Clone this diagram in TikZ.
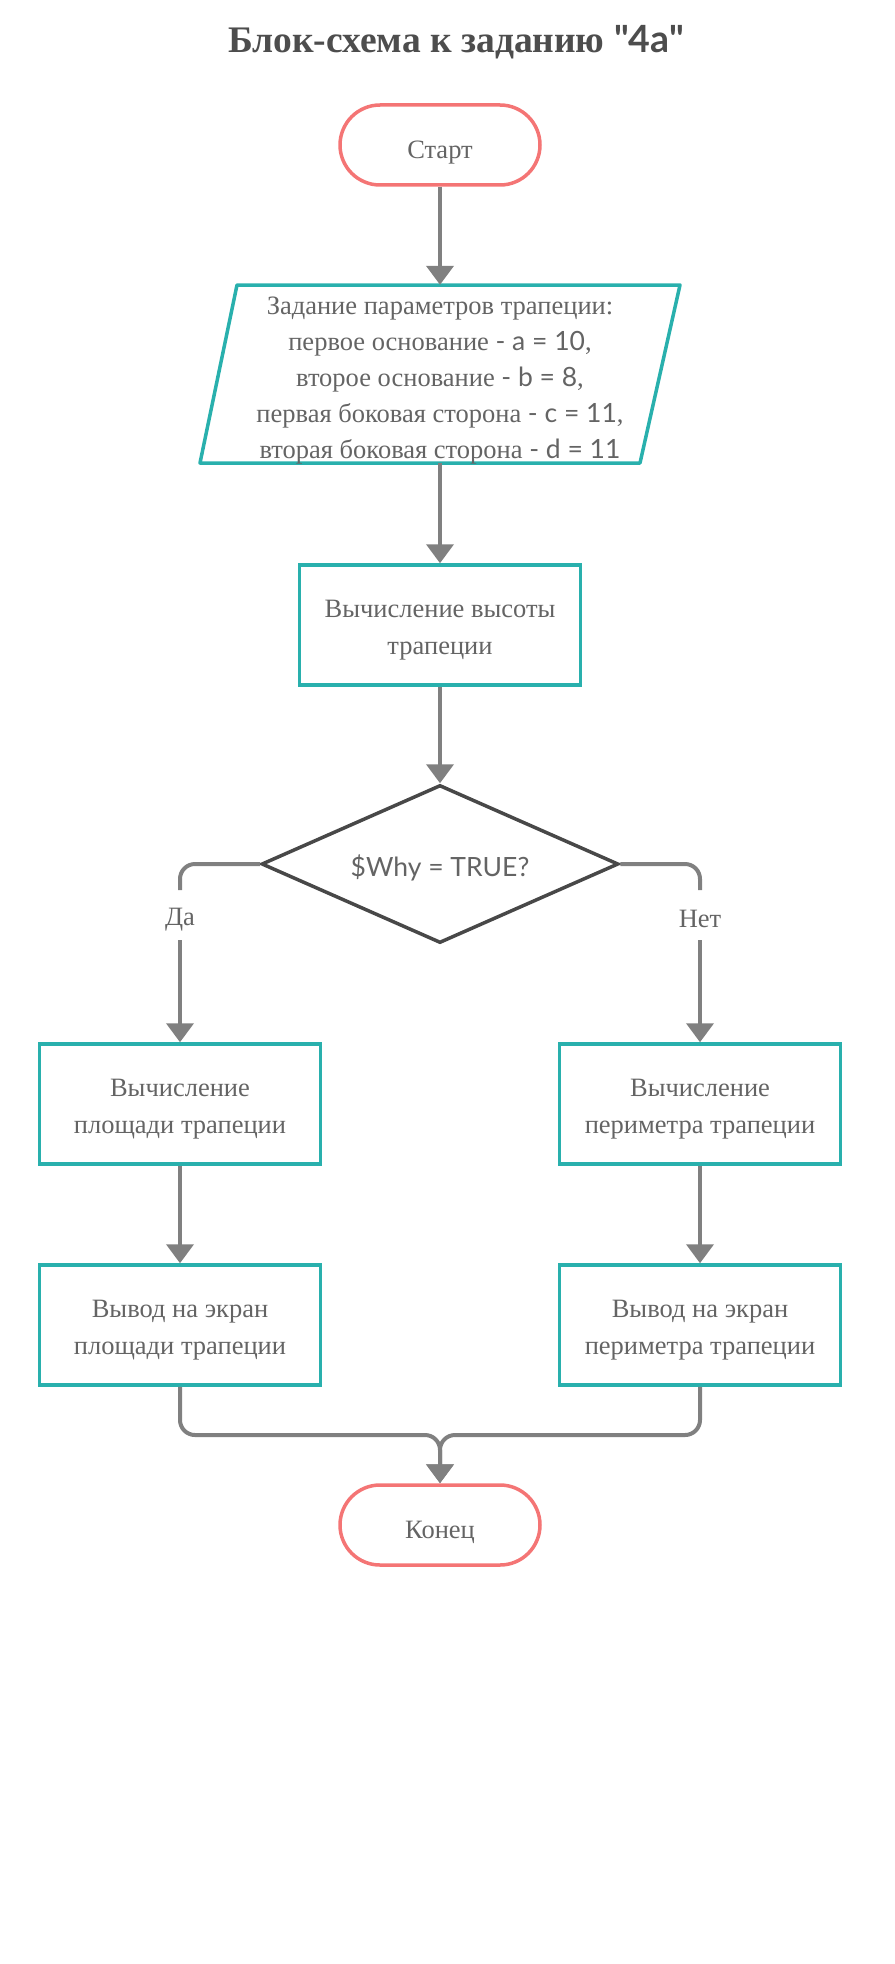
\documentclass[tikz,border=0pt]{standalone}
\usepackage{fontspec}
\setmainfont{Liberation Serif}
\newfontfamily\lato{Lato}
\usetikzlibrary{shapes.geometric,arrows.meta}
\definecolor{teal2}{RGB}{41,176,173}
\definecolor{red2}{RGB}{244,117,117}
\definecolor{arr}{RGB}{128,128,128}
\definecolor{dia}{RGB}{72,72,72}
\definecolor{txt}{RGB}{100,100,100}
\definecolor{ttl}{RGB}{77,77,77}
\tikzset{
  every node/.style={text=txt, font=\fontsize{26.5}{37}\selectfont},
  termbox/.style={draw=red2, line width=3.5pt, rounded corners=40pt, minimum width=200pt, minimum height=80pt, inner sep=0pt},
  procbox/.style={draw=teal2, line width=3.5pt, minimum width=281pt, minimum height=120pt, inner sep=0pt},
  decbox/.style={draw=dia, diamond, line width=3.5pt, minimum width=357pt, minimum height=158pt, inner sep=0pt},
  boxtxt/.style={align=center, inner sep=0pt},
  conn/.style={draw=arr, line width=4pt, -{Triangle[width=27pt,length=19pt]}},
  plainconn/.style={draw=arr, line width=4pt},
}
\begin{document}
\begin{tikzpicture}[x=1pt,y=-1pt]
\useasboundingbox (0,0) rectangle (894,1964);
\node[text=ttl, font=\fontsize{37.5}{42}\selectfont\bfseries, anchor=base] (title) at (456,53) {Блок-схема к заданию {\lato\bfseries "4a"}};
% start
\node[termbox] (start) at (440,145) {};
\node[boxtxt] (startt) at (440,153) {Старт};
% input
\node[minimum width=400pt, minimum height=178pt, inner sep=0pt] (in) at (440,374) {};
\draw[draw=teal2, line width=3.5pt, line join=round] (237,285) -- (680,285) -- (640,463) -- (200,463) -- cycle;
\node[boxtxt, font=\fontsize{26.5}{36}\selectfont] (int) at (440,381)
  {Задание параметров трапеции:\\ первое основание {\lato - a = 10},\\ второе основание {\lato - b = 8},\\ первая боковая сторона {\lato - c = 11},\\ вторая боковая сторона {\lato - d = 11}};
% height
\node[procbox] (h) at (440,625) {};
\node[boxtxt] (ht) at (440,630.5) {Вычисление высоты\\ трапеции};
% decision
\node[decbox] (dec) at (440,864) {};
\node[boxtxt] (dect) at (440,868) {\lato \$Why = TRUE?};
% labels
\node[boxtxt] (yes) at (180,920) {Да};
\node[boxtxt] (no) at (700,918.5) {Нет};
\coordinate (yesA) at (180,890);
\coordinate (yesB) at (180,940);
\coordinate (noA) at (700,890);
\coordinate (noB) at (700,940);
% left branch
\node[procbox] (s1) at (180,1104) {};
\node[boxtxt] (s1t) at (180,1109.5) {Вычисление\\ площади трапеции};
\node[procbox] (s2) at (180,1325) {};
\node[boxtxt] (s2t) at (180,1330.5) {Вывод на экран\\ площади трапеции};
% right branch
\node[procbox] (p1) at (700,1104) {};
\node[boxtxt] (p1t) at (700,1109.5) {Вычисление\\ периметра трапеции};
\node[procbox] (p2) at (700,1325) {};
\node[boxtxt] (p2t) at (700,1330.5) {Вывод на экран\\ периметра трапеции};
% end
\node[termbox] (end) at (440,1525) {};
\node[boxtxt] (endt) at (440,1532.5) {Конец};
\coordinate (m) at (440,1435);
% connectors
\draw[conn] (start.south) -- (in.north);
\draw[conn] (in.south) -- (h.north);
\draw[conn] (h.south) -- (dec.north);
\draw[plainconn, rounded corners=15pt] (dec.west) -| (yesA);
\draw[plainconn, rounded corners=15pt] (dec.east) -| (noA);
\draw[conn] (yesB) -- (s1.north);
\draw[conn] (noB) -- (p1.north);
\draw[conn] (s1.south) -- (s2.north);
\draw[conn] (p1.south) -- (p2.north);
\draw[conn, rounded corners=15pt] (s2.south) |- (m) -- (end.north);
\draw[conn, rounded corners=15pt] (p2.south) |- (m) -- (end.north);
\end{tikzpicture}
\end{document}
